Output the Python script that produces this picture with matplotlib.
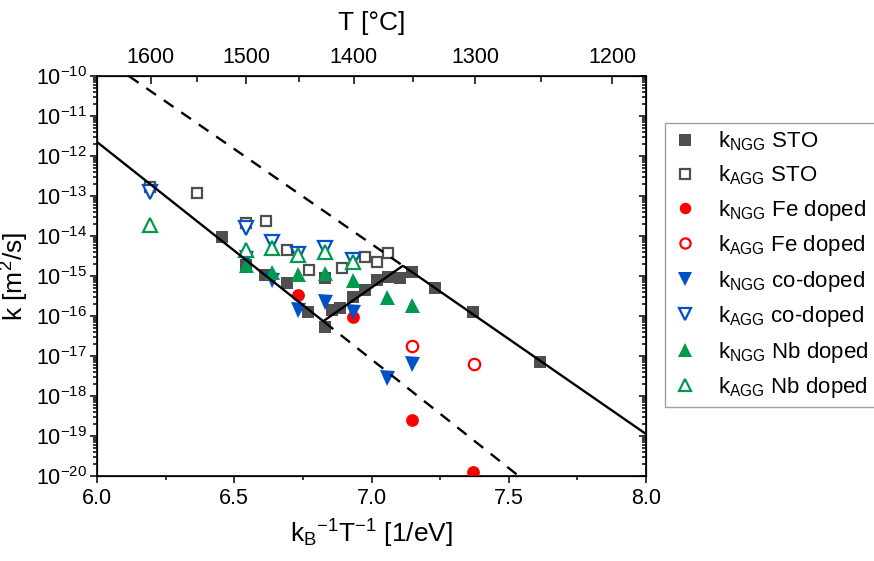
import numpy as np
import matplotlib
matplotlib.use("Agg")
import matplotlib.pyplot as plt
from matplotlib.ticker import LogLocator, NullFormatter, FixedLocator, FuncFormatter, MultipleLocator

plt.rcParams['font.family'] = ['Liberation Sans', 'DejaVu Sans']
plt.rcParams['mathtext.fontset'] = 'custom'
plt.rcParams['mathtext.rm'] = 'Liberation Sans'
plt.rcParams['mathtext.it'] = 'Liberation Sans:italic'
plt.rcParams['mathtext.bf'] = 'Liberation Sans:bold'
plt.rcParams['axes.unicode_minus'] = False

# ---------------- data ----------------
# k_NGG STO
x_ngg_sto = [6.455, 6.543, 6.612, 6.692, 6.769, 6.831, 6.831, 6.856, 6.885, 6.933,
             6.976, 7.020, 7.060, 7.104, 7.148, 7.231, 7.370, 7.614]
k_ngg_sto = [9.4e-15, 1.9e-15, 1.06e-15, 6.7e-16, 1.26e-16, 5.3e-17, 8.9e-16, 1.4e-16, 1.6e-16, 3.0e-16,
             4.5e-16, 7.9e-16, 9.4e-16, 8.9e-16, 1.26e-15, 5.0e-16, 1.26e-16, 7.1e-18]
# k_AGG STO
x_agg_sto = [6.193, 6.364, 6.543, 6.616, 6.692, 6.772, 6.893, 6.976, 7.020, 7.060]
k_agg_sto = [1.68e-13, 1.19e-13, 2.1e-14, 2.37e-14, 4.5e-15, 1.4e-15, 1.58e-15, 3.0e-15, 2.24e-15, 3.76e-15]
# k_NGG Fe doped
x_ngg_fe = [6.732, 6.933, 7.148, 7.370]
k_ngg_fe = [3.35e-16, 9.4e-17, 2.5e-19, 1.26e-20]
# k_AGG Fe doped
x_agg_fe = [7.148, 7.373]
k_agg_fe = [1.78e-17, 6.3e-18]
# k_NGG co-doped
x_ngg_co = [6.543, 6.638, 6.732, 6.831, 6.933, 7.056, 7.148]
k_ngg_co = [2.8e-15, 7.9e-16, 1.4e-16, 2.24e-16, 1.26e-16, 2.8e-18, 6.3e-18]
# k_AGG co-doped
x_agg_co = [6.193, 6.543, 6.638, 6.732, 6.831, 6.933]
k_agg_co = [1.26e-13, 1.58e-14, 7.1e-15, 3.5e-15, 5.0e-15, 2.5e-15]
# k_NGG Nb doped
x_ngg_nb = [6.543, 6.638, 6.732, 6.831, 6.933, 7.056, 7.148]
k_ngg_nb = [1.9e-15, 1.26e-15, 1.12e-15, 1.19e-15, 7.9e-16, 3.0e-16, 1.9e-16]
# k_AGG Nb doped
x_agg_nb = [6.193, 6.543, 6.638, 6.732, 6.831, 6.933]
k_agg_nb = [1.9e-14, 4.5e-15, 5.0e-15, 3.35e-15, 4.0e-15, 2.24e-15]

# Arrhenius fit lines: log10(k) = a + b * x
fit_a = [20.96, -48.75, 19.05]      # intercepts
fit_b = [-5.435, 4.78, -4.75]       # slopes
# ranges: (solid start, solid end), (dashed start, dashed end)
solid_ranges = [(6.0, 6.827), (6.827, 7.115), (7.115, 8.0)]
dashed_ranges = [(6.827, 7.55), None, (6.116, 7.115)]

# top axis temperatures
T_major = [1600, 1500, 1400, 1300, 1200]
T_minor = [1550, 1450, 1350, 1250]
kB = 8.617333e-5

# ---------------- figure ----------------
fig = plt.figure(figsize=(8.74, 5.61), dpi=100)
ax = fig.add_axes([97/874, 1-476/561, (646-97)/874, 400/561])

gray = '#4f4f4f'
red = '#ff0000'
blue = '#0050c8'
green = '#009a4e'

series = [
    (x_ngg_sto, k_ngg_sto, 's', gray, True, r'k$_\mathregular{NGG}$ STO', 8.8),
    (x_agg_sto, k_agg_sto, 's', gray, False, r'k$_\mathregular{AGG}$ STO', 7.8),
    (x_ngg_fe, k_ngg_fe, 'o', red, True, r'k$_\mathregular{NGG}$ Fe doped', 9.2),
    (x_agg_fe, k_agg_fe, 'o', red, False, r'k$_\mathregular{AGG}$ Fe doped', 8.2),
    (x_ngg_co, k_ngg_co, 'v', blue, True, r'k$_\mathregular{NGG}$ co-doped', 10.8),
    (x_agg_co, k_agg_co, 'v', blue, False, r'k$_\mathregular{AGG}$ co-doped', 9.8),
    (x_ngg_nb, k_ngg_nb, '^', green, True, r'k$_\mathregular{NGG}$ Nb doped', 10.8),
    (x_agg_nb, k_agg_nb, '^', green, False, r'k$_\mathregular{AGG}$ Nb doped', 9.8),
]
handles = []
for xs, ks, m, c, filled, lab, ms in series:
    h, = ax.plot(xs, ks, ls='none', marker=m, ms=ms,
                 mfc=c if filled else 'white', mec=c, mew=0 if filled else 1.6,
                 label=lab, zorder=3)
    handles.append(h)

for a, b, sr, dr in zip(fit_a, fit_b, solid_ranges, dashed_ranges):
    xx = np.linspace(sr[0], sr[1], 50)
    ax.plot(xx, 10**(a + b*xx), color='black', lw=1.7, zorder=4, solid_capstyle='butt')
    if dr is not None:
        xx = np.linspace(dr[0], dr[1], 50)
        ax.plot(xx, 10**(a + b*xx), color='black', lw=1.7, ls=(0, (5, 4)), zorder=4)

ax.set_xlim(6.0, 8.0)
ax.set_yscale('log')
ax.set_ylim(1e-20, 1e-10)

ax.xaxis.set_major_locator(MultipleLocator(0.5))
ax.xaxis.set_minor_locator(MultipleLocator(0.25))
ax.xaxis.set_major_formatter(FuncFormatter(lambda v, p: f'{v:.1f}'))
ax.yaxis.set_major_locator(LogLocator(base=10, numticks=30))
ax.yaxis.set_minor_locator(LogLocator(base=10, subs=np.arange(2, 10), numticks=300))
ax.yaxis.set_minor_formatter(NullFormatter())
ax.yaxis.set_major_formatter(FuncFormatter(lambda v, p: r'10$^\mathregular{%d}$' % round(np.log10(v))))

ax.tick_params(axis='both', which='both', direction='out', top=False, right=False, labelsize=15.5, width=1.1)
ax.tick_params(axis='both', which='major', length=5)
ax.tick_params(axis='both', which='minor', length=3)
ax.tick_params(axis='x', which='both', pad=4)
ax.tick_params(axis='y', which='both', pad=2)

for s in ax.spines.values():
    s.set_linewidth(1.2)

ax.set_xlabel(r'k$_\mathregular{B}$$^\mathregular{-1}$T$^\mathregular{-1}$ [1/eV]', fontsize=19, labelpad=6)
ax.set_ylabel(r'k [m$^\mathregular{2}$/s]', fontsize=19, labelpad=4)

# right axis (inward ticks)
axr = ax.twinx()
axr.set_yscale('log')
axr.set_ylim(1e-20, 1e-10)
axr.yaxis.set_major_locator(LogLocator(base=10, numticks=30))
axr.yaxis.set_minor_locator(LogLocator(base=10, subs=np.arange(2, 10), numticks=300))
axr.yaxis.set_major_formatter(NullFormatter())
axr.yaxis.set_minor_formatter(NullFormatter())
axr.tick_params(axis='y', which='both', direction='in', width=1.1)
axr.tick_params(axis='y', which='major', length=5)
axr.tick_params(axis='y', which='minor', length=3)

# top axis: temperature
axt = ax.twiny()
axt.set_xlim(6.0, 8.0)
major_pos = [1.0/(kB*(t+273.15)) for t in T_major]
minor_pos = [1.0/(kB*(t+273.15)) for t in T_minor]
axt.xaxis.set_major_locator(FixedLocator(major_pos))
axt.xaxis.set_minor_locator(FixedLocator(minor_pos))
axt.set_xticklabels([str(t) for t in T_major])
axt.xaxis.set_minor_formatter(NullFormatter())
axt.tick_params(axis='x', which='both', direction='in', labelsize=15.5, width=1.1, pad=6)
axt.tick_params(axis='x', which='major', length=6)
axt.tick_params(axis='x', which='minor', length=4)
axt.set_xlabel('T [°C]', fontsize=19, labelpad=12)

leg = fig.legend(handles=handles, loc='upper left', bbox_to_anchor=(665/874, 1-123/561),
                 frameon=True, fancybox=False, fontsize=16, labelspacing=0.47,
                 handlelength=1.2, handletextpad=0.9, borderpad=0.3, markerscale=0.9,
                 borderaxespad=0)
leg.get_frame().set_edgecolor('#888888')
leg.get_frame().set_linewidth(1.0)

fig.savefig('out.png', dpi=100)
